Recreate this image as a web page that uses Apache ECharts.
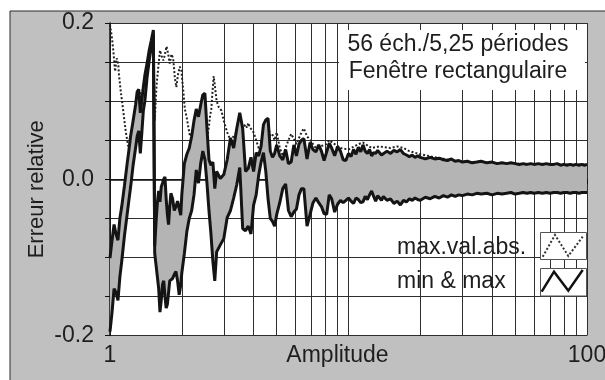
<!DOCTYPE html>
<html>
<head>
<meta charset="utf-8">
<script src="https://cdn.jsdelivr.net/npm/echarts@6/dist/echarts.min.js"></script>
<style>
  html, body { margin: 0; padding: 0; background: #fff; }
  #chart { width: 605px; height: 380px; }
</style>
</head>
<body>
<div id="chart"></div>
<script>
// amplitude (log axis) shared by the min & max curves
const amplitudes = [1.00, 1.02, 1.04, 1.06, 1.08, 1.10, 1.12, 1.15, 1.18, 1.20, 1.22, 1.25, 1.28, 1.30, 1.32, 1.34, 1.36, 1.38, 1.40, 1.43, 1.46, 1.49, 1.52,
  1.54, 1.56, 1.58, 1.60, 1.62, 1.64, 1.66, 1.68, 1.70, 1.72, 1.74, 1.76, 1.78, 1.80, 1.83, 1.86, 1.89, 1.92, 1.95, 1.98,
  2.00, 2.05, 2.10, 2.15, 2.20, 2.25, 2.30, 2.35, 2.40, 2.45, 2.50, 2.55, 2.60, 2.65, 2.70, 2.75, 2.80, 2.90,
  3.00, 3.10, 3.20, 3.30, 3.40, 3.50, 3.60, 3.70, 3.80, 3.90, 4.00, 4.10, 4.20, 4.30, 4.40, 4.50, 4.60, 4.70, 4.80, 4.90,
  5.00, 5.15, 5.30, 5.45, 5.60, 5.75, 5.90, 6.05, 6.20, 6.35, 6.50, 6.70, 6.90, 7.10, 7.30, 7.50, 7.70, 7.90, 8.10, 8.30, 8.50, 8.75, 9.00, 9.25, 9.50, 9.75,
  10, 10.25, 10.5, 10.75, 11, 11.25, 11.5, 11.75, 12, 12.25, 12.5, 12.75, 13, 13.25, 13.5, 13.75,
  14, 14.5, 15, 15.5, 16, 16.5, 17, 17.5, 18, 18.5, 19, 19.5, 20, 21, 22, 23, 24, 25, 26, 27, 28, 29, 30, 31.5, 33, 34.5, 36, 38,
  40, 42, 44, 46, 48, 50, 52, 54, 56, 58, 60, 62.5, 65, 67.5, 70, 72.5, 75, 77.5, 80, 82.5, 85, 87.5, 90, 92.5, 95, 97.5, 100];

const maxValues = [-0.101, -0.078, -0.058, -0.07, -0.078, -0.05, -0.035, -0.008, 0.02, 0.037, 0.055, 0.075, 0.095, 0.112, 0.115, 0.085, 0.102, 0.118, 0.133, 0.148, 0.165, 0.178, 0.191,
  -0.085, -0.055, -0.03, -0.015, -0.029, -0.01, -0.005, 0.0, 0.003, -0.025, -0.045, -0.058, -0.035, -0.018, -0.025, -0.04, -0.035, -0.028, -0.03, -0.046,
  -0.02, 0.02, 0.032, 0.04, 0.055, 0.075, 0.09, 0.08, 0.095, 0.108, 0.11, 0.065, 0.025, 0.018, 0.022, -0.012, 0.01, 0.001,
  0.006, 0.025, 0.053, 0.04, 0.065, 0.085, 0.065, 0.01, 0.014, 0.028, 0.01, 0.034, 0.03, 0.042, 0.07, 0.076, 0.078, 0.036, 0.028, 0.033,
  0.044, 0.03, 0.025, 0.038, 0.02, 0.022, 0.044, 0.03, 0.045, 0.05, 0.052, 0.026, 0.047, 0.038, 0.035, 0.044, 0.036, 0.024, 0.035, 0.046, 0.04, 0.03, 0.042, 0.036, 0.025, 0.024,
  0.033, 0.029, 0.038, 0.032, 0.041, 0.035, 0.044, 0.036, 0.033, 0.038, 0.03, 0.034, 0.033, 0.037, 0.035, 0.031,
  0.032, 0.036, 0.033, 0.037, 0.035, 0.038, 0.033, 0.031, 0.029, 0.031, 0.028, 0.03, 0.028, 0.026, 0.028, 0.026, 0.027, 0.025, 0.024, 0.026, 0.023, 0.024, 0.022, 0.023, 0.021, 0.022, 0.023, 0.021,
  0.022, 0.02, 0.021, 0.02, 0.021, 0.02, 0.019, 0.02, 0.019, 0.02, 0.019, 0.02, 0.019, 0.02, 0.019, 0.019, 0.02, 0.018, 0.019, 0.018, 0.019, 0.018, 0.019, 0.018, 0.019, 0.018, 0.019];

const minValues = [-0.195, -0.17, -0.14, -0.145, -0.155, -0.125, -0.105, -0.072, -0.045, -0.027, -0.01, 0.018, 0.04, 0.055, 0.062, 0.033, 0.06, 0.088, 0.1, 0.13, 0.152, 0.17, 0.185,
  -0.095, -0.11, -0.125, -0.14, -0.17, -0.155, -0.135, -0.13, -0.15, -0.165, -0.16, -0.145, -0.13, -0.13, -0.127, -0.122, -0.118, -0.13, -0.148, -0.135,
  -0.12, -0.095, -0.067, -0.05, -0.04, -0.02, 0.012, -0.005, 0.02, 0.036, 0.025, -0.005, -0.04, -0.07, -0.105, -0.13, -0.093, -0.084,
  -0.076, -0.049, -0.04, -0.024, -0.007, 0.015, -0.063, -0.066, -0.06, -0.07, -0.033, -0.02, 0.005, 0.022, 0.034, 0.01, -0.025, -0.05, -0.054, -0.06,
  -0.045, -0.03, -0.012, -0.006, -0.04, -0.048, -0.042, -0.038, -0.02, -0.012, -0.012, -0.06, -0.045, -0.03, -0.024, -0.03, -0.035, -0.044, -0.045, -0.02, -0.025, -0.042, -0.032, -0.027, -0.03, -0.027,
  -0.024, -0.028, -0.031, -0.024, -0.026, -0.03, -0.029, -0.022, -0.026, -0.02, -0.015, -0.022, -0.028, -0.021, -0.024, -0.027,
  -0.022, -0.027, -0.025, -0.031, -0.028, -0.033, -0.027, -0.029, -0.025, -0.027, -0.024, -0.026, -0.027, -0.023, -0.025, -0.022, -0.024, -0.021, -0.023, -0.02, -0.022, -0.02, -0.021, -0.019, -0.02, -0.018, -0.019, -0.018,
  -0.02, -0.018, -0.019, -0.018, -0.017, -0.019, -0.018, -0.017, -0.018, -0.017, -0.018, -0.017, -0.018, -0.017, -0.018, -0.017, -0.017, -0.018, -0.017, -0.017, -0.018, -0.017, -0.017, -0.018, -0.017, -0.017, -0.017];

// dotted curve: max. of absolute value
const absAmplitudes = [1.00, 1.02, 1.033, 1.05, 1.067, 1.083, 1.09, 1.11, 1.137, 1.164, 1.193, 1.22, 1.30, 1.40, 1.49, 1.52,
  1.54, 1.567, 1.59, 1.62, 1.645, 1.675, 1.70, 1.726, 1.755, 1.78, 1.81, 1.84, 1.87, 1.897, 1.93, 1.963, 1.99,
  2.03, 2.06, 2.10, 2.13, 2.165, 2.23, 2.35, 2.45, 2.55, 2.60, 2.63, 2.66, 2.68, 2.70, 2.72, 2.74, 2.77, 2.80, 2.86, 2.93,
  3.00, 3.10, 3.20, 3.40, 3.50, 3.60, 3.65, 3.70, 3.75, 3.80, 3.85, 3.90, 4.00, 4.10, 4.20, 4.30, 4.40, 4.60, 4.70, 4.80, 4.90,
  5.00, 5.15, 5.30, 5.60, 5.75, 5.90, 6.05, 6.35, 6.50, 6.70, 6.90, 7.30, 8.10, 8.30, 8.75, 9.25,
  10, 11, 11.5, 12.5, 13.5, 15, 16, 17, 18, 20, 24, 30, 40, 60, 100];
const absMaxValues = [0.198, 0.18, 0.164, 0.138, 0.155, 0.148, 0.134, 0.112, 0.087, 0.061, 0.042, 0.045, 0.1, 0.12, 0.174, 0.188,
  0.075, 0.12, 0.14, 0.165, 0.158, 0.152, 0.16, 0.17, 0.16, 0.148, 0.16, 0.155, 0.13, 0.118, 0.135, 0.144, 0.14,
  0.112, 0.09, 0.078, 0.067, 0.055, 0.06, 0.07, 0.09, 0.05, 0.068, 0.082, 0.09, 0.105, 0.118, 0.132, 0.125, 0.112, 0.1, 0.092, 0.088,
  0.075, 0.06, 0.05, 0.06, 0.08, 0.066, 0.068, 0.07, 0.066, 0.072, 0.067, 0.068, 0.06, 0.05, 0.04, 0.04, 0.065, 0.07, 0.055, 0.057, 0.05,
  0.06, 0.04, 0.03, 0.05, 0.058, 0.052, 0.045, 0.06, 0.065, 0.055, 0.05, 0.04, 0.045, 0.05, 0.045, 0.04,
  0.038, 0.045, 0.047, 0.04, 0.042, 0.04, 0.042, 0.04, 0.036, 0.032, 0.027, 0.022, 0.021, 0.019, 0.019];

const xTickLabels = ['1', '100'];
const yTickLabels = ['-0.2', '0.0', '0.2'];
const minorGridAmplitudes = [2, 3, 4, 5, 6, 7, 8, 9, 20, 30, 40, 50, 60, 70, 80, 90];

const FONT = '"Liberation Sans", Arial, sans-serif';
const TEXT = '#1e1e1e';
const GRID = '#2e2e2e';

const chart = echarts.init(document.getElementById('chart'));

const pairs = (xs, ys) => xs.map((x, i) => [x, ys[i]]);

// grey band between min and max, drawn as one polygon through the axes' scales
const renderBand = (params, api) => {
  if (params.dataIndex !== 0) return null;
  const upper = amplitudes.map((a, i) => api.coord([a, maxValues[i]]));
  const lower = amplitudes.map((a, i) => api.coord([a, minValues[i]])).reverse();
  return {
    type: 'polygon',
    shape: { points: upper.concat(lower) },
    style: { fill: '#b4b4b4', stroke: null }
  };
};

const options = {
  backgroundColor: '#fff',
  animation: false,
  grid: {
    left: 110, right: 18, top: 23, bottom: 44.5,
    show: true, backgroundColor: '#fff', borderWidth: 0,
    containLabel: false, outerBoundsMode: 'none'
  },
  xAxis: {
    type: 'log', logBase: 10, min: 1, max: 100,
    axisLine: { lineStyle: { color: '#111', width: 1.5 } },
    axisTick: { show: true, length: 5, lineStyle: { color: '#111' } },
    axisLabel: {
      margin: 9, fontSize: 23, color: TEXT, fontFamily: FONT,
      formatter: v => {
        const s = String(Math.round(v));
        return xTickLabels.includes(s) ? s : '';
      }
    },
    splitLine: { show: true, lineStyle: { color: GRID, width: 1 } },
    name: 'Amplitude', nameLocation: 'middle', nameGap: 9, nameMoveOverlap: false,
    nameTextStyle: { fontSize: 23, color: TEXT, fontFamily: FONT, padding: [0, 22, 0, 0] }
  },
  yAxis: {
    type: 'value', min: -0.2, max: 0.2, interval: 0.05,
    axisLine: { show: true, lineStyle: { color: '#111', width: 1.5 } },
    axisTick: { show: true, length: 5, lineStyle: { color: '#111' } },
    axisLabel: {
      margin: 16, fontSize: 23, color: TEXT, fontFamily: FONT,
      formatter: v => {
        if (Math.abs(v * 10 - Math.round(v * 10)) > 1e-6) return '';
        const s = (Math.round(v * 10) / 10).toFixed(1);
        return yTickLabels.includes(s) ? s : '';
      }
    },
    splitLine: { show: true, lineStyle: { color: GRID, width: 1 } },
    name: 'Erreur relative', nameLocation: 'middle', nameGap: 62, nameMoveOverlap: false,
    nameTextStyle: { fontSize: 22, color: TEXT, fontFamily: FONT, padding: [0, 20, 0, 0] }
  },
  series: [
    {
      name: 'max.val.abs.', type: 'line', z: 2, silent: true,
      data: pairs(absAmplitudes, absMaxValues),
      symbol: 'none',
      lineStyle: { color: '#222', width: 2, type: [2, 2] },
      markLine: {
        silent: true, z: 1, animation: false,
        symbol: ['none', 'none'],
        label: { show: false },
        lineStyle: { color: GRID, width: 1, type: 'solid' },
        emphasis: { disabled: true },
        data: minorGridAmplitudes.map(a => ({ xAxis: a }))
      }
    },
    {
      name: 'band', type: 'custom', z: 3, silent: true,
      data: pairs(amplitudes, maxValues),
      renderItem: renderBand
    },
    {
      name: 'max', type: 'line', z: 4, silent: true,
      data: pairs(amplitudes, maxValues),
      symbol: 'none',
      lineStyle: { color: '#141414', width: 3 }
    },
    {
      name: 'min', type: 'line', z: 4, silent: true,
      data: pairs(amplitudes, minValues),
      symbol: 'none',
      lineStyle: { color: '#141414', width: 3 }
    }
  ],
  graphic: [
    // grey panel with its frame
    { type: 'rect', z: -10, silent: true, shape: { x: 10, y: 11, width: 620, height: 400 },
      style: { fill: '#c0c0c0', stroke: '#2a2a2a', lineWidth: 1 } },
    // title box
    { type: 'rect', z: 50, silent: true, shape: { x: 339, y: 30, width: 246, height: 60 }, style: { fill: '#fff' } },
    { type: 'text', z: 51, x: 458, y: 45, silent: true,
      style: { text: '56 éch./5,25 périodes', fontSize: 23, fontFamily: FONT, fill: TEXT, align: 'center', verticalAlign: 'middle' } },
    { type: 'text', z: 51, x: 458, y: 72, silent: true,
      style: { text: 'Fenêtre rectangulaire', fontSize: 23, fontFamily: FONT, fill: TEXT, align: 'center', verticalAlign: 'middle' } },
    // legend
    { type: 'text', z: 51, x: 397, y: 248, silent: true,
      style: { text: 'max.val.abs.', fontSize: 23, fontFamily: FONT, fill: TEXT, align: 'left', verticalAlign: 'middle' } },
    { type: 'text', z: 51, x: 397, y: 282, silent: true,
      style: { text: 'min & max', fontSize: 23, fontFamily: FONT, fill: TEXT, align: 'left', verticalAlign: 'middle' } },
    { type: 'rect', z: 50, silent: true, shape: { x: 540.5, y: 232.5, width: 46, height: 27 },
      style: { fill: '#fff', stroke: '#555', lineWidth: 1 } },
    { type: 'polyline', z: 51, silent: true, shape: { points: [[542.7, 256.7], [555, 235], [568.3, 256], [582.7, 236.7]] },
      style: { stroke: '#333', lineWidth: 2, lineDash: [2, 2], fill: null } },
    { type: 'rect', z: 50, silent: true, shape: { x: 540.5, y: 268.5, width: 46, height: 27.5 },
      style: { fill: '#fff', stroke: '#555', lineWidth: 1 } },
    { type: 'polyline', z: 51, silent: true, shape: { points: [[541.7, 291.7], [554, 271.7], [568.3, 290.7], [582.7, 270]] },
      style: { stroke: '#111', lineWidth: 2.5, fill: null } }
  ]
};

chart.setOption(options);
</script>
</body>
</html>
